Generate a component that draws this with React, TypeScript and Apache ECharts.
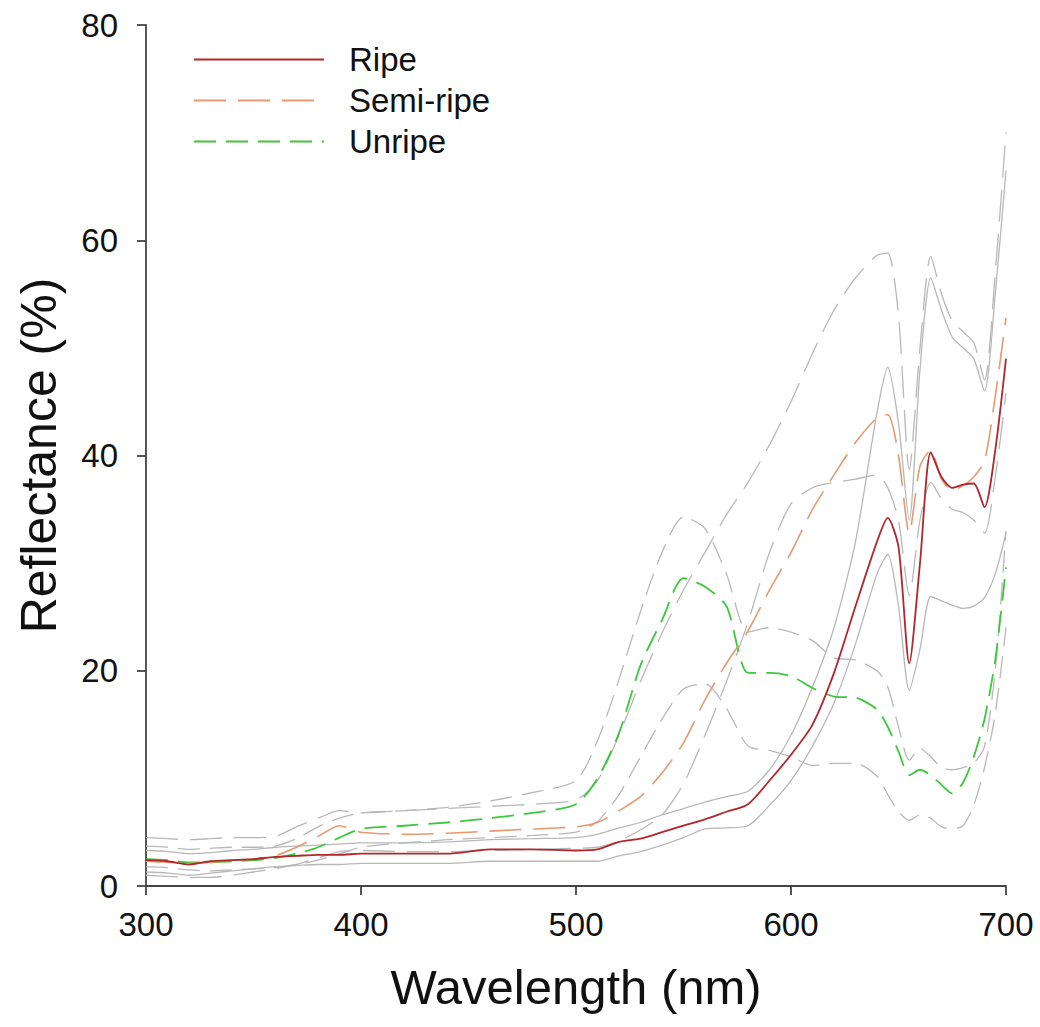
import React, { useEffect, useRef } from "react";
import * as echarts from "echarts";

const wavelengths = [300,310,320,330,340,350,360,370,380,390,400,420,440,460,480,500,510,520,530,540,550,560,570,580,590,600,610,620,630,640,645,650,655,660,665,670,675,680,685,690,695,700];

const ripe = [2.4,2.3,2.0,2.3,2.4,2.5,2.7,2.8,2.9,2.9,3.0,3.0,3.0,3.4,3.4,3.3,3.4,4.1,4.4,5.0,5.6,6.2,6.9,7.6,9.8,12.2,15.0,19.8,26.0,32.0,34.2,31.5,20.7,30.0,40.3,38.0,37.0,37.3,37.4,35.2,40.5,49.0];
const ripeUpper = [3.3,3.2,3.0,3.1,3.3,3.4,3.6,3.7,3.8,3.9,4.0,4.0,4.1,4.3,4.4,4.5,4.8,5.4,5.9,6.6,7.2,7.8,8.3,8.8,10.8,14.0,18.5,24.0,32.0,44.0,48.2,43.0,34.0,48.0,56.5,53.5,51.0,50.0,49.0,46.0,55.0,66.5];
const ripeLower = [1.3,1.2,1.0,1.2,1.4,1.6,1.8,1.9,2.0,2.0,2.1,2.1,2.1,2.3,2.3,2.3,2.3,2.8,3.2,3.8,4.5,5.3,5.4,5.6,7.5,9.8,13.0,17.0,22.5,29.0,30.8,26.0,18.2,22.0,26.9,26.5,26.1,25.8,26.0,26.8,29.0,32.8];

const semiRipe = [2.3,2.2,2.1,2.2,2.4,2.5,2.8,3.6,4.6,5.6,5.0,4.8,4.9,5.1,5.3,5.5,5.9,7.0,8.3,10.5,13.3,17.3,20.7,23.7,27.5,31.0,35.0,38.2,41.2,43.5,43.8,40.0,32.8,39.0,40.5,37.8,36.8,37.2,38.0,39.5,45.5,52.8];
const semiUpper = [4.5,4.4,4.3,4.4,4.5,4.5,4.6,5.5,6.3,7.0,6.8,7.0,7.2,7.4,7.6,8.0,9.8,14.0,19.0,23.5,27.5,31.0,34.5,37.5,41.0,45.0,49.5,53.5,56.5,58.6,58.8,53.0,38.7,50.0,58.5,55.0,52.5,51.5,50.5,47.0,57.0,70.0];
const semiLower = [1.0,0.9,0.8,0.8,1.0,1.3,1.6,2.0,2.6,3.2,3.3,3.2,3.2,3.3,3.4,3.5,3.6,4.2,5.2,6.6,9.5,14.0,19.0,24.5,31.0,35.5,37.0,37.5,37.8,38.2,37.0,34.0,27.0,34.0,37.5,36.0,35.0,34.7,34.0,32.8,38.0,45.8];

const unripe = [2.5,2.4,2.2,2.2,2.3,2.4,2.6,3.0,3.6,4.5,5.3,5.6,5.9,6.3,6.8,7.6,10.0,14.2,20.5,24.7,28.6,27.8,26.0,19.8,19.8,19.5,18.4,17.6,17.5,16.4,14.8,12.5,10.3,10.8,10.3,9.4,8.6,9.6,12.0,15.5,21.0,29.6];
const unripeUpper = [3.7,3.6,3.4,3.5,3.6,3.6,3.7,4.4,5.5,6.3,6.8,7.0,7.3,7.9,8.7,9.8,13.5,19.2,25.5,31.0,34.3,33.2,29.0,23.6,24.0,23.6,22.8,21.2,21.0,20.0,18.5,14.8,11.7,12.8,12.0,11.0,10.8,11.0,11.4,13.0,20.0,33.0];
const unripeLower = [1.8,1.7,1.5,1.4,1.5,1.6,1.7,2.0,2.4,3.0,3.6,4.0,4.3,4.5,4.7,5.0,6.0,8.5,12.0,15.5,18.3,18.8,16.5,13.0,12.6,12.0,11.2,11.4,11.4,10.2,8.5,6.9,6.1,6.6,6.3,5.5,5.3,5.6,7.5,11.0,16.0,24.0];

const xTicks = [300, 400, 500, 600, 700];
const yTicks = [0, 20, 40, 60, 80];

const pairs = (ys: number[]) => wavelengths.map((w, i) => [w, ys[i]]);

const GRAY = "#b8b8b8";
const FONT = "Liberation Sans, Arial, sans-serif";

export default function App() {
  const ref = useRef<HTMLDivElement>(null);
  useEffect(() => {
    document.body.style.margin = "0";
    const chart = echarts.init(ref.current!, null, { renderer: "svg" });
    const grayLine = (name: string, ys: number[], type: any) => ({
      name,
      type: "line",
      data: pairs(ys),
      symbol: "none",
      smooth: 0.25,
      lineStyle: { color: GRAY, width: 1.3, type },
      z: 1,
    });
    const semiDash = [32, 12];
    const unripeDash = [22, 10];
    chart.setOption({
      animation: false,
      backgroundColor: "#ffffff",
      grid: { left: 146, right: 34, top: 25, bottom: 141, containLabel: false },
      legend: {
        data: ["Ripe", "Semi-ripe", "Unripe"],
        orient: "vertical",
        left: 188,
        top: 38,
        itemWidth: 130,
        itemHeight: 16,
        itemGap: 8,
        itemStyle: { opacity: 0, color: "transparent", borderWidth: 0 },
        textStyle: { fontFamily: FONT, fontSize: 33, color: "#111", padding: [0, 0, 0, 20] },
      },
      xAxis: {
        type: "value",
        min: xTicks[0],
        max: xTicks[xTicks.length - 1],
        interval: 100,
        name: "Wavelength (nm)",
        nameLocation: "middle",
        nameGap: 76,
        nameTextStyle: { fontFamily: FONT, fontSize: 49, color: "#111" },
        axisLine: { lineStyle: { color: "#444", width: 1.8 } },
        axisTick: { show: true, length: 9, lineStyle: { color: "#444", width: 1.8 } },
        axisLabel: { fontFamily: FONT, fontSize: 33, color: "#111", margin: 22 },
        splitLine: { show: false },
      },
      yAxis: {
        type: "value",
        min: yTicks[0],
        max: yTicks[yTicks.length - 1],
        interval: 20,
        name: "Reflectance (%)",
        nameLocation: "middle",
        nameGap: 82,
        nameTextStyle: { fontFamily: FONT, fontSize: 50, color: "#111" },
        axisLine: { show: true, lineStyle: { color: "#444", width: 1.8 } },
        axisTick: { show: true, length: 9, lineStyle: { color: "#444", width: 1.8 } },
        axisLabel: { fontFamily: FONT, fontSize: 33, color: "#111", margin: 28 },
        splitLine: { show: false },
      },
      series: [
        grayLine("Ripe upper", ripeUpper, "solid"),
        grayLine("Ripe lower", ripeLower, "solid"),
        grayLine("Semi-ripe upper", semiUpper, semiDash),
        grayLine("Semi-ripe lower", semiLower, semiDash),
        grayLine("Unripe upper", unripeUpper, unripeDash),
        grayLine("Unripe lower", unripeLower, unripeDash),
        {
          name: "Unripe",
          type: "line",
          data: pairs(unripe),
          symbol: "none",
          smooth: 0.25,
          lineStyle: { color: "#3cc83c", width: 1.8, type: unripeDash },
          itemStyle: { color: "#3cc83c" },
          z: 3,
        },
        {
          name: "Semi-ripe",
          type: "line",
          data: pairs(semiRipe),
          symbol: "none",
          smooth: 0.25,
          lineStyle: { color: "#e59a70", width: 1.6, type: semiDash },
          itemStyle: { color: "#e59a70" },
          z: 3,
        },
        {
          name: "Ripe",
          type: "line",
          data: pairs(ripe),
          symbol: "none",
          smooth: 0.25,
          lineStyle: { color: "#b3262b", width: 1.8, type: "solid" },
          itemStyle: { color: "#b3262b" },
          z: 4,
        },
      ],
    });
    return () => chart.dispose();
  }, []);
  return <div ref={ref} style={{ width: 1040, height: 1027 }} />;
}
